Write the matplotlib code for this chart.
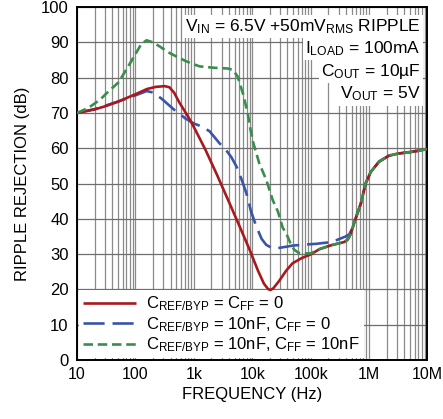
import numpy as np
import matplotlib.pyplot as plt
from matplotlib.ticker import FixedLocator, NullFormatter

plt.rcParams['font.family'] = ['Liberation Sans', 'DejaVu Sans']
plt.rcParams['mathtext.default'] = 'regular'

# curve readings (Hz, dB)
f_red = [10, 20, 31.6, 50, 100, 158, 224, 316, 380, 457, 562, 794, 1000, 1585, 2512,
         3981, 6310, 8913, 12590, 15850, 18620, 20420, 22910, 28840, 38020, 48980,
         70790, 100000, 141300, 223900, 371500, 426600, 478600, 588800, 724400,
         871000, 1070000, 1480000, 2190000, 3160000, 5010000, 7080000, 10000000]
db_red = [70.0, 71.0, 72.0, 73.2, 75.3, 76.8, 77.4, 77.6, 77.3, 75.8, 73.0, 69.0, 66.0,
          59.5, 52.3, 44.8, 37.2, 31.4, 25.2, 21.6, 20.1, 19.8, 20.3, 22.4, 25.3, 27.4,
          28.9, 29.9, 31.4, 32.5, 33.4, 34.0, 35.5, 40.1, 44.4, 50.0, 53.3, 56.2, 57.9,
          58.5, 58.9, 59.3, 59.8]

f_blue = [10, 20, 50, 100, 155, 200, 282, 468, 708, 1000, 1350, 1860, 2750, 3550, 4370,
          5370, 6610, 7940, 9550, 11750, 14450, 17380, 21380, 25700, 35480, 48980,
          79430, 123000, 199500, 281800, 398100, 457100, 524800, 588800, 724400,
          871000, 1070000, 1480000, 2190000, 3160000, 5010000, 7080000, 10000000]
db_blue = [70.0, 71.1, 73.2, 75.0, 76.2, 75.8, 74.0, 70.8, 68.5, 67.0, 66.2, 64.8, 61.4,
           59.5, 57.5, 54.8, 51.0, 47.2, 42.0, 37.8, 34.3, 32.6, 31.8, 31.6, 32.0, 32.4,
           32.7, 32.9, 33.3, 34.0, 35.0, 35.6, 37.5, 40.1, 44.4, 50.0, 53.3, 56.2, 57.9,
           58.5, 58.9, 59.3, 59.8]

f_green = [10, 15.8, 24.5, 35.5, 50.7, 70.8, 97.7, 126, 155, 200, 263, 355, 501, 708,
           912, 1260, 2240, 3800, 4680, 5620, 6920, 8320, 10000, 13180, 17380, 22390,
           27540, 33110, 38020, 44670, 52480, 63100, 72440, 100000, 141300, 223900,
           371500, 426600, 478600, 588800, 724400, 871000, 1070000, 1480000, 2190000,
           3160000, 5010000, 7080000, 10000000]
db_green = [70.0, 71.5, 73.7, 76.3, 78.6, 82.5, 86.4, 89.6, 90.6, 90.0, 88.8, 87.3, 86.0,
            84.8, 84.0, 83.2, 82.8, 82.6, 82.2, 80.3, 75.5, 70.0, 62.5, 55.7, 51.0, 45.3,
            42.0, 37.5, 35.9, 33.2, 31.2, 30.3, 30.2, 30.2, 31.4, 32.5, 33.4, 34.0, 35.5,
            40.1, 44.4, 50.0, 53.3, 56.2, 57.9, 58.5, 58.9, 59.3, 59.8]

x_ticks = [10, 100, 1e3, 1e4, 1e5, 1e6, 1e7]
x_labels = ['10', '100', '1k', '10k', '100k', '1M', '10M']
y_ticks = list(range(0, 101, 10))

red = '#a8191e'
blue = '#3a55a8'
green = '#3a8e4c'

fig = plt.figure(figsize=(4.43, 4.19), dpi=100)
ax = fig.add_axes([0.174, 0.141, 0.791, 0.842])

ax.plot(f_red, db_red, color=red, lw=1.9, solid_capstyle='butt',
        label='$C_{REF/BYP}$ = $C_{FF}$ = 0', zorder=5)
ax.plot(f_blue, db_blue, color=blue, lw=1.9, dashes=(8, 3),
        label='$C_{REF/BYP}$ = 10nF, $C_{FF}$ = 0', zorder=4)
ax.plot(f_green, db_green, color=green, lw=1.9, dashes=(3.6, 1.8),
        label='$C_{REF/BYP}$ = 10nF, $C_{FF}$ = 10nF', zorder=6)

ax.set_xscale('log')
ax.set_xlim(10, 1e7)
ax.set_ylim(0, 100)
ax.xaxis.set_major_locator(FixedLocator(x_ticks))
ax.set_xticklabels(x_labels)
minors = [m * 10.0 ** d for d in range(1, 7) for m in range(2, 10)]
ax.xaxis.set_minor_locator(FixedLocator(minors))
ax.xaxis.set_minor_formatter(NullFormatter())
ax.set_yticks(y_ticks)
ax.grid(True, which='both', axis='x', color='#8a8a8a', lw=0.9)
ax.grid(True, which='major', axis='y', color='#6e6e6e', lw=0.9)
ax.tick_params(which='both', length=0, labelsize=12)
ax.tick_params(axis='x', labelsize=11.5, pad=5)
ax.tick_params(axis='y', pad=6)
for s in ax.spines.values():
    s.set_linewidth(1.4)

ax.set_xlabel('FREQUENCY (Hz)', fontsize=12, labelpad=4)
ax.set_ylabel('RIPPLE REJECTION (dB)', fontsize=12, labelpad=8)

lines = ['$V_{IN}$ = 6.5V +50m$V_{RMS}$ RIPPLE', '$I_{LOAD}$ = 100mA',
         '$C_{OUT}$ = 10µF', '$V_{OUT}$ = 5V']
for i, t in enumerate(lines):
    ax.text(0.98, 0.972 - i * 0.064, t, transform=ax.transAxes, ha='right', va='top',
            fontsize=12.5, zorder=7,
            bbox=dict(facecolor='white', edgecolor='none', pad=1.5))

leg = ax.legend(loc='lower left', fontsize=12, handlelength=3.2, borderaxespad=0.1,
                labelspacing=0.1, handletextpad=0.6, fancybox=False, framealpha=1,
                edgecolor='none', borderpad=0.25)
leg.set_zorder(3)

fig.savefig('out.png', dpi=100)
